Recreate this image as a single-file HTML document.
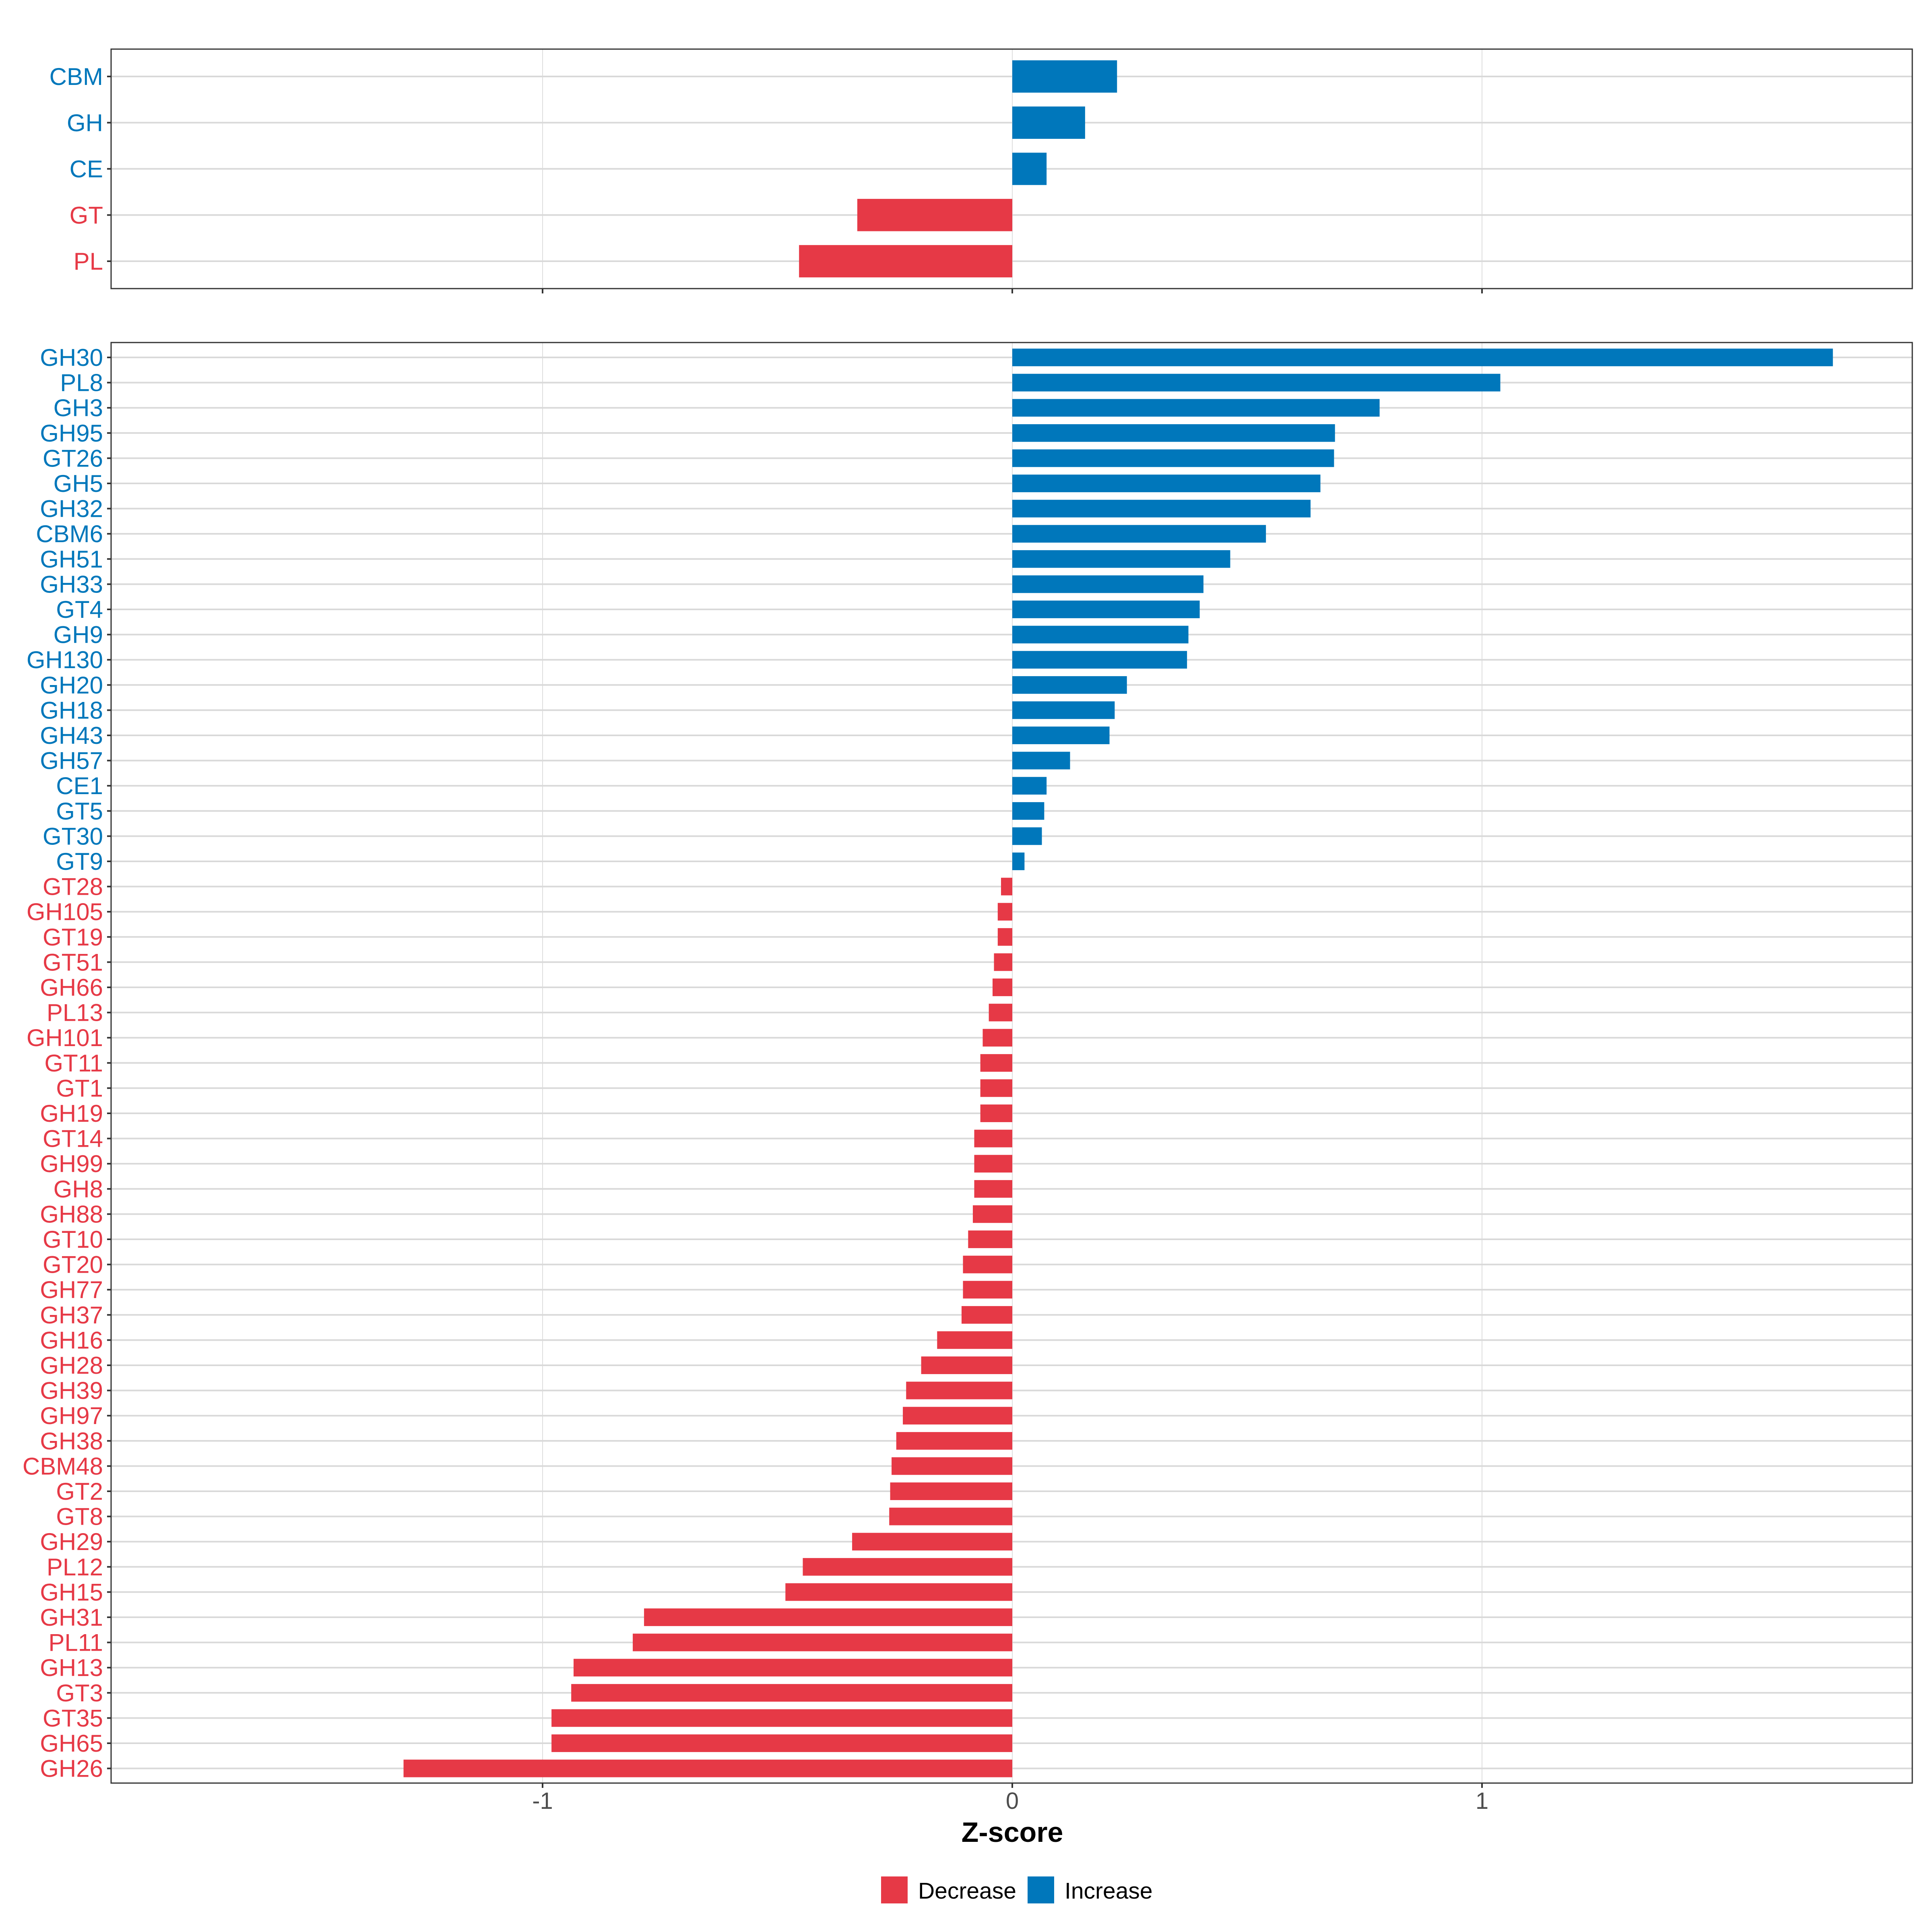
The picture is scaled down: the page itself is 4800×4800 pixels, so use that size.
<!DOCTYPE html>
<html><head><meta charset="utf-8"><style>html,body{margin:0;padding:0;background:#fff}svg{display:block}</style></head>
<body>
<svg id="chart" width="4800" height="4800" xmlns="http://www.w3.org/2000/svg" font-family="Liberation Sans, sans-serif"></svg>
<script>
const topCats = ["CBM","GH","CE","GT","PL"];
const topVals = [0.223,0.155,0.073,-0.330,-0.454];
const botCats = ["GH30","PL8","GH3","GH95","GT26","GH5","GH32","CBM6","GH51","GH33","GT4","GH9","GH130","GH20","GH18","GH43","GH57","CE1","GT5","GT30","GT9","GT28","GH105","GT19","GT51","GH66","PL13","GH101","GT11","GT1","GH19","GT14","GH99","GH8","GH88","GT10","GT20","GH77","GH37","GH16","GH28","GH39","GH97","GH38","CBM48","GT2","GT8","GH29","PL12","GH15","GH31","PL11","GH13","GT3","GT35","GH65","GH26"];
const botVals = [1.747,1.039,0.782,0.687,0.685,0.656,0.635,0.540,0.464,0.407,0.399,0.375,0.372,0.244,0.218,0.207,0.123,0.073,0.068,0.063,0.026,-0.024,-0.031,-0.031,-0.039,-0.042,-0.050,-0.063,-0.068,-0.068,-0.068,-0.081,-0.081,-0.081,-0.084,-0.094,-0.105,-0.105,-0.108,-0.160,-0.194,-0.226,-0.233,-0.247,-0.257,-0.260,-0.262,-0.341,-0.446,-0.483,-0.784,-0.808,-0.934,-0.939,-0.981,-0.981,-1.296];
const xTicks = [-1,0,1];
const xTickLabels = ["-1","0","1"];

const RED="#E63946", BLUE="#0077BB";
const svg=document.getElementById('chart');
const NS="http://www.w3.org/2000/svg";
function mk(tag,attrs,parent){const e=document.createElementNS(NS,tag);for(const k in attrs)e.setAttribute(k,attrs[k]);(parent||svg).appendChild(e);return e;}
const L=276,R=4751;
const x=v=>2515+v*1167;

function panel(name,cats,vals,top,bottom,y0,step,showLabels){
  const g=mk('g',{});
  
  
  xTicks.forEach(t=>{const l=mk('line',{x1:x(t),x2:x(t),y1:top,y2:bottom,stroke:'#dedede','stroke-width':2},g);
    });
  const y=i=>y0+i*step;
  cats.forEach((c,i)=>{
    const gl=mk('line',{x1:L,x2:R,y1:y(i),y2:y(i),stroke:'#d9d9d9','stroke-width':4},g);
    
  });
  cats.forEach((c,i)=>{
    const v=vals[i],col=v>=0?BLUE:RED,bh=step*0.7;
    const b=mk('rect',{x:Math.min(x(0),x(v)),y:y(i)-bh/2,width:Math.abs(x(v)-x(0)),height:bh,fill:col},g);
    
    
    const tk=mk('line',{x1:266,x2:L,y1:y(i),y2:y(i),stroke:'#333','stroke-width':4},g);
    
    const t=mk('text',{x:256,y:y(i)+21,'text-anchor':'end','font-size':60,fill:col},g);
    t.textContent=c;
    
    
  });
  const fr=mk('rect',{x:L,y:top,width:R-L,height:bottom-top,fill:'none',stroke:'#333','stroke-width':3},g);
  
  xTicks.forEach((t,i)=>{
    const tk=mk('line',{x1:x(t),x2:x(t),y1:bottom,y2:bottom+12,stroke:'#333','stroke-width':4},g);
    
    if(showLabels){const tl=mk('text',{x:x(t),y:bottom+64,'text-anchor':'middle','font-size':58,fill:'#4d4d4d'},g);
      tl.textContent=xTickLabels[i];
      }
  });
}
panel('top-panel',topCats,topVals,122,717,190,114.75,false);
panel('bottom-panel',botCats,botVals,851,4430,888,62.6,true);

const at=mk('text',{x:2515,y:4576,'text-anchor':'middle','font-size':70,'font-weight':'bold',fill:'#000'});
at.textContent='Z-score';



const lg=mk('g',{});


[[RED,'Decrease',2189,2281],[BLUE,'Increase',2553,2645]].forEach(([c,lab,sx,tx])=>{
  const r=mk('rect',{x:sx,y:4662,width:66,height:67,fill:c},lg);
  
  
  const t=mk('text',{x:tx,y:4717,'font-size':57,fill:'#000'},lg);
  t.textContent=lab;
  
  
});
</script>
</body></html>
